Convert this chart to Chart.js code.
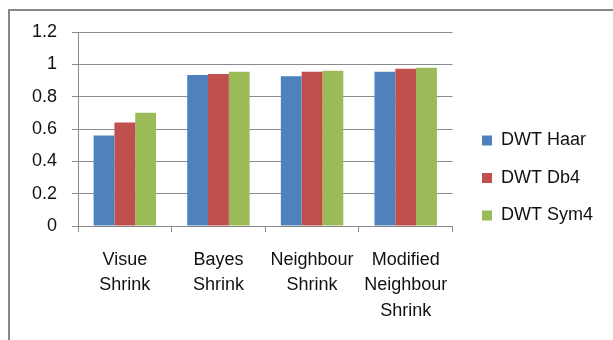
<!DOCTYPE html>
<html>
<head>
<meta charset="utf-8">
<script src="https://cdn.jsdelivr.net/npm/chart.js@4.4.0/dist/chart.umd.min.js"></script>
<style>
  html, body { margin: 0; padding: 0; background: #fff; }
  #wrap { position: relative; width: 613px; height: 340px; overflow: hidden; }
  #frame { position: absolute; left: 8px; top: 9px; width: 700px; height: 400px;
           border-left: 2px solid #868686; border-top: 2px solid #868686; }
  canvas { position: absolute; left: 0; top: 0; }
</style>
</head>
<body>
<div id="wrap">
  <div id="frame"></div>
  <canvas id="grafico" width="613" height="340"></canvas>
</div>
<script>
// categorias y series
var categorias = [
    ['Visue', 'Shrink'],
    ['Bayes', 'Shrink'],
    ['Neighbour', 'Shrink'],
    ['Modified', 'Neighbour', 'Shrink']
];
var haar = [0.56, 0.934, 0.927, 0.954];
var db4  = [0.64, 0.94, 0.954, 0.973];
var sym4 = [0.70, 0.954, 0.96, 0.979];
var nombres = ['DWT Haar', 'DWT Db4', 'DWT Sym4'];

var fuente = "'Liberation Sans', Arial, sans-serif";
var gris = '#8a8a8a';

// mueve la leyenda un poco a la derecha y arriba, como en el original
var moverLeyenda = {
    id: 'moverLeyenda',
    afterLayout: function(chart) {
        var l = chart.legend;
        if (!l) return;
        l.left += 10; l.right += 10;
        l.top -= 8; l.bottom -= 8;
    }
};

var ctx = document.getElementById('grafico').getContext('2d');
var myChart = new Chart(ctx, {
    type: 'bar',
    data: {
        labels: categorias,
        datasets: [
            { label: nombres[0], data: haar, backgroundColor: '#4F81BD' },
            { label: nombres[1], data: db4,  backgroundColor: '#C0504D' },
            { label: nombres[2], data: sym4, backgroundColor: '#9BBB59' }
        ]
    },
    plugins: [moverLeyenda],
    options: {
        responsive: false,
        animation: false,
        layout: { padding: { top: 32, left: 0, right: 20, bottom: 0 } },
        datasets: { bar: { categoryPercentage: 0.667, barPercentage: 1.0 } },
        plugins: {
            tooltip: { enabled: false },
            legend: {
                position: 'right',
                labels: {
                    boxWidth: 10,
                    boxHeight: 10,
                    padding: 19.5,
                    color: '#111',
                    font: { family: fuente, size: 18 }
                }
            }
        },
        scales: {
            x: {
                afterFit: function(scale) { scale.height = 114; },
                grid: { drawOnChartArea: false, drawTicks: true, tickLength: 6, color: gris, offset: true },
                border: { color: gris, width: 1 },
                ticks: { color: '#111', padding: 15, maxRotation: 0, autoSkip: false,
                         font: { family: fuente, size: 18, lineHeight: 1.42 } }
            },
            y: {
                min: 0,
                max: 1.2,
                afterFit: function(scale) { scale.width = 78; },
                grid: { color: gris, tickLength: 6 },
                border: { color: gris, width: 1 },
                ticks: { stepSize: 0.2, color: '#111', padding: 15,
                         font: { family: fuente, size: 18 },
                         callback: function(v) { return +v.toFixed(1); } }
            }
        }
    }
});
</script>
</body>
</html>
